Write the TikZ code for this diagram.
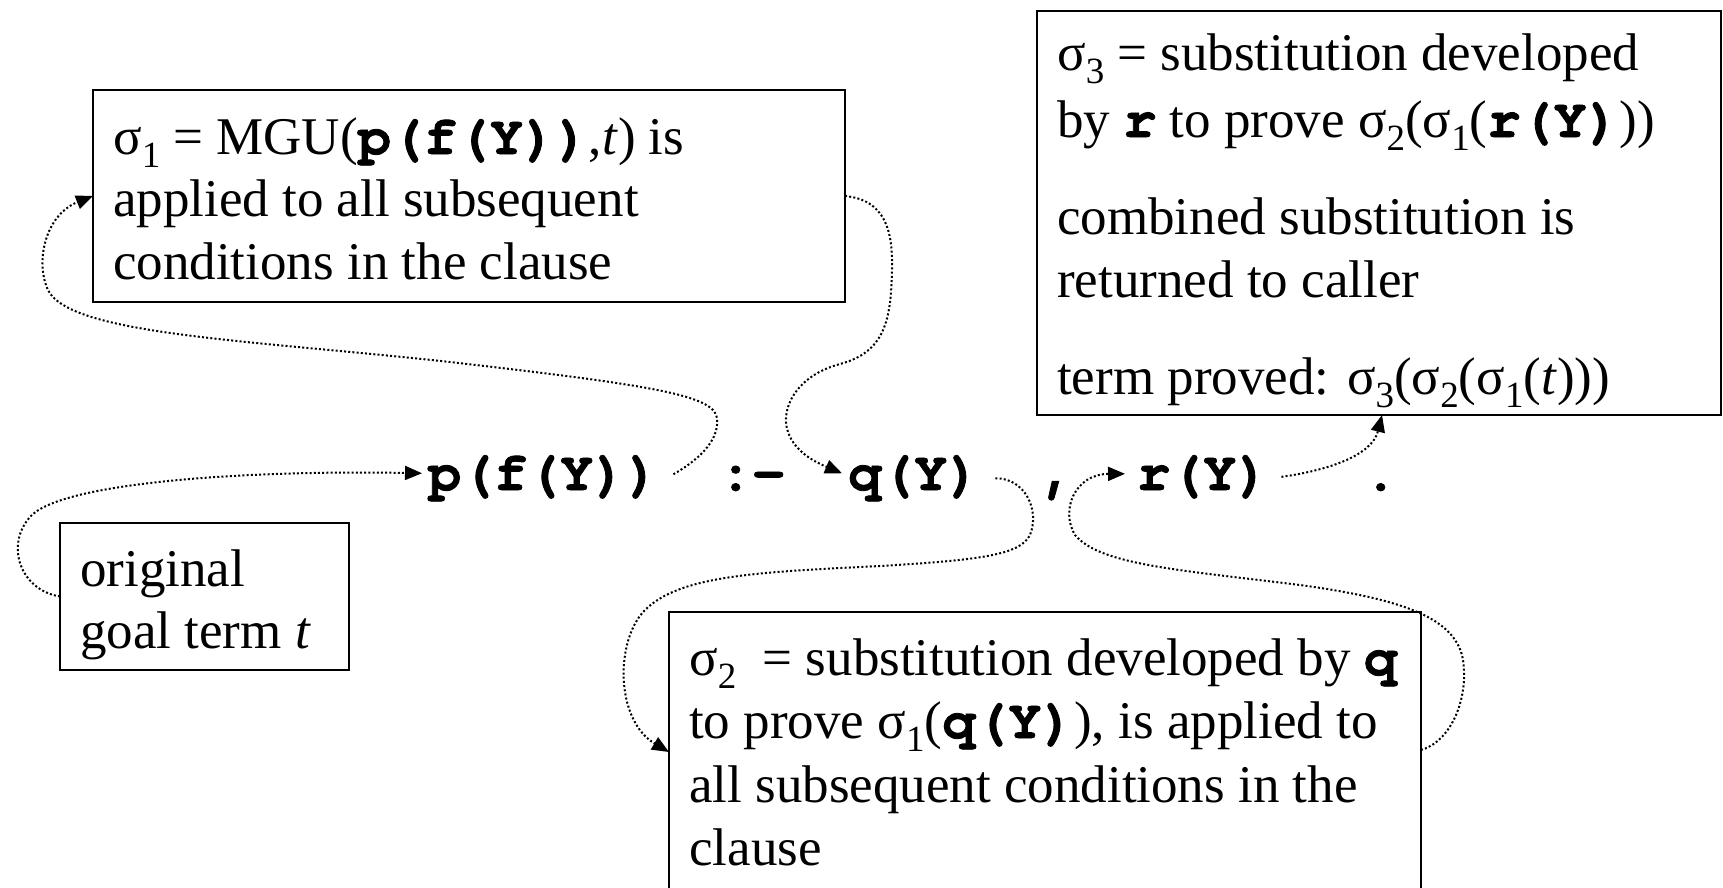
\documentclass[tikz,border=0pt]{standalone}
\usepackage{fontspec}
\setmainfont{Liberation Serif}
\setmonofont[BoldFeatures={FakeBold=1.5}]{TeX Gyre Cursor}
\usetikzlibrary{arrows.meta}
\newcommand{\cd}[1]{{\fontsize{55}{55}\selectfont\ttfamily\bfseries #1}}
\newcommand{\sg}[1]{σ\raisebox{-13pt}{\fontsize{37}{37}\selectfont #1}}
\begin{document}
\begin{tikzpicture}[x=1pt,y=-1pt,
  box/.style={draw, line width=2pt, inner sep=0pt, outer sep=0pt},
  txt/.style={anchor=base west, inner sep=0pt, font=\fontsize{53}{62}\selectfont},
  code/.style={anchor=base west, inner sep=0pt, font=\fontsize{55}{55}\selectfont\ttfamily\bfseries},
  conn/.style={line width=2pt, dash pattern=on 2pt off 2.2pt, -{Triangle[length=17pt,width=14pt]}}]
\useasboundingbox[fill=white] (0,0) rectangle (1723,887);
% boxes
\node[box, minimum width=752pt, minimum height=212pt] (s1) at (469,196) {};
\node[box, minimum width=684pt, minimum height=404pt] (s3) at (1379,213) {};
\node[box, minimum width=289pt, minimum height=147pt] (orig) at (204.5,596.5) {};
\node[box, minimum width=752pt, minimum height=288pt] (s2) at (1045,756) {};
% sigma1 text
\node[txt] (s1a) at (113,154) {\sg{1} = MGU(\cd{p(f(Y))},\textit{t}) is};
\node[txt] (s1b) at (113,216) {applied to all subsequent};
\node[txt] (s1c) at (113,279) {conditions in the clause};
% sigma3 text
\node[txt] (s3a) at (1057,70) {\sg{3} = substitution developed};
\node[txt] (s3b) at (1057,137) {by \cd{r} to prove \sg{2}(\sg{1}(\cd{r(Y)}))};
\node[txt] (s3c) at (1057,234) {combined substitution is};
\node[txt] (s3d) at (1057,297) {returned to caller};
\node[txt] (s3e) at (1057,394) {term proved: \sg{3}(\sg{2}(\sg{1}(\textit{t})))};
% original text
\node[txt] (oa) at (80,586) {original};
\node[txt] (ob) at (80,648) {goal term \textit{t}};
% sigma2 text
\node[txt] (s2a) at (689,675) {\sg{2}\ \ = substitution developed by \cd{q}};
\node[txt] (s2b) at (689,738) {to prove \sg{1}(\cd{q(Y)}), is applied to};
\node[txt] (s2c) at (689,802) {all subsequent conditions in the};
\node[txt] (s2d) at (689,865) {clause};
% clause
\node[code] (p) at (428,490) {p(f(Y))};
\node[code] (neck) at (719,490) {:-};
\node[code] (q) at (848,490) {q(Y)};
\node[code] (comma) at (1041,490) {,};
\node[code] (r) at (1137,490) {r(Y)};
\node[code] (dot) at (1364,490) {.};
% connectors (yshift is in page direction: positive = up)
\draw[conn] (orig.west) .. controls (20,590) and (5,545) .. (30,517)
  .. controls (60,482) and (250,470) .. ([xshift=-6pt,yshift=5pt]p.west);
\draw[conn] ([xshift=14pt,yshift=4pt]p.east) .. controls (695,462) and (720,442) .. (717,418)
  .. controls (714,395) and (650,385) .. (450,362)
  .. controls (250,340) and (70,335) .. (48,290)
  .. controls (35,262) and (45,215) .. (s1.west);
\draw[conn] (s1.east) .. controls (885,200) and (893,230) .. (892,270)
  .. controls (891,320) and (885,352) .. (840,364)
  .. controls (795,376) and (780,410) .. (788,432)
  .. controls (795,452) and (815,462) .. ([xshift=-6pt,yshift=5pt]q.west);
\draw[conn] ([xshift=15pt]q.east) .. controls (1025,478) and (1040,510) .. (1030,535)
  .. controls (1020,555) and (980,560) .. (880,566)
  .. controls (760,572) and (680,575) .. (645,610)
  .. controls (615,640) and (615,720) .. ([yshift=4pt]s2.west);
\draw[conn] ([yshift=6pt]s2.east) .. controls (1455,740) and (1470,690) .. (1462,655)
  .. controls (1452,620) and (1410,600) .. (1300,585)
  .. controls (1180,570) and (1100,565) .. (1075,535)
  .. controls (1060,510) and (1075,474) .. ([xshift=-12pt,yshift=3pt]r.west);
\draw[conn] ([xshift=12pt]r.east) .. controls (1330,470) and (1372,455) .. ([xshift=3pt]s3.south);
\end{tikzpicture}
\end{document}
